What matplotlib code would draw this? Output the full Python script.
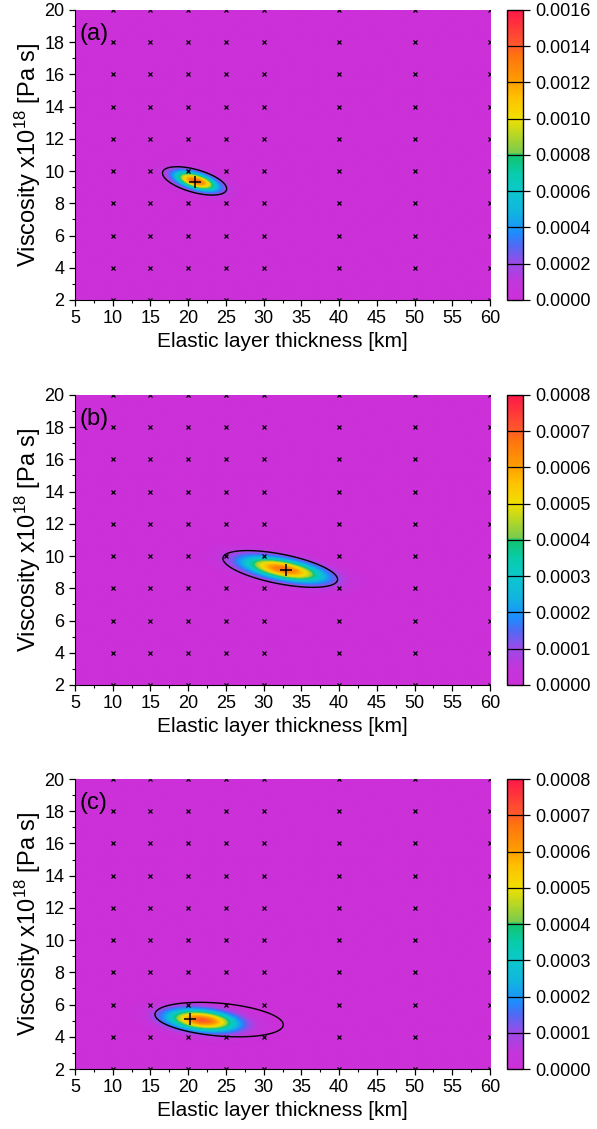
import numpy as np
import matplotlib
matplotlib.use('Agg')
import matplotlib.pyplot as plt
from matplotlib.colors import LinearSegmentedColormap

plt.rcParams['font.family'] = ['Liberation Sans', 'DejaVu Sans']
plt.rcParams['mathtext.default'] = 'regular'

# model grid that was searched (x markers)
thickness_grid = [10, 15, 20, 25, 30, 40, 50, 60]
viscosity_grid = [2, 4, 6, 8, 10, 12, 14, 16, 18, 20]

panel_labels = ['(a)', '(b)', '(c)']
cbar_max = [0.0016, 0.0008, 0.0008]
cbar_step = [0.0002, 0.0001, 0.0001]

# best-fit model (+ marker)
best_thickness = [20.9, 32.9, 20.2]
best_viscosity = [9.3, 9.13, 5.1]

# probability surface: peak value, centre, half widths, tilt
peak_value = [0.0014, 0.00068, 0.00071]
pdf_center_x = [21.0, 32.6, 21.8]
pdf_center_y = [9.35, 9.15, 5.0]
pdf_half_x = [4.0, 7.6, 6.5]
pdf_half_y = [0.85, 1.1, 0.95]
pdf_rho = [-0.55, -0.57, -0.3]

# black confidence ellipse
ell_center_x = [20.85, 32.2, 24.1]
ell_center_y = [9.39, 9.2, 5.07]
ell_half_x = [4.25, 7.6, 8.5]
ell_half_y = [0.88, 1.14, 1.07]
ell_rho = [-0.55, -0.57, -0.3]

cmap = LinearSegmentedColormap.from_list('cpt', [
    (0.00, '#cc30d8'), (0.06, '#c236dc'), (0.125, '#9b4ae8'),
    (0.19, '#4c6cf4'), (0.23, '#1e8cff'), (0.30, '#10b4e0'),
    (0.375, '#0cc8cc'), (0.44, '#08cca8'), (0.50, '#14c46c'),
    (0.51, '#7ccc4c'), (0.625, '#f0e000'), (0.70, '#ffc000'),
    (0.75, '#ffa000'), (0.85, '#ff7010'), (0.875, '#ff5c28'),
    (1.00, '#ff1848')])


def quad_form(X, Y, cx, cy, hx, hy, rho):
    u = (X - cx) / hx
    v = (Y - cy) / hy
    return (u * u - 2 * rho * u * v + v * v) / (1 - rho * rho)


xs = np.linspace(5, 60, 600)
ys = np.linspace(2, 20, 500)
X, Y = np.meshgrid(xs, ys)

fig = plt.figure(figsize=(5.97, 11.29), dpi=100)
left, width = 0.1256, 0.6952
height = 0.2569
bottoms = [0.7343, 0.3933, 0.0531]

for i in range(3):
    ax = fig.add_axes([left, bottoms[i], width, height])
    Q = quad_form(X, Y, pdf_center_x[i], pdf_center_y[i],
                  pdf_half_x[i], pdf_half_y[i], pdf_rho[i])
    Z = peak_value[i] * np.exp(np.log(0.13) * Q)
    im = ax.imshow(Z, extent=[5, 60, 2, 20], origin='lower', aspect='auto',
                   cmap=cmap, vmin=0, vmax=cbar_max[i], interpolation='bilinear')

    E = quad_form(X, Y, ell_center_x[i], ell_center_y[i],
                  ell_half_x[i], ell_half_y[i], ell_rho[i])
    ax.contour(X, Y, E, levels=[1.0], colors='k', linewidths=1.0)

    gx, gy = np.meshgrid(thickness_grid, viscosity_grid)
    ax.plot(gx.ravel(), gy.ravel(), 'x', color='k', ms=3, mew=0.9)
    ax.plot(best_thickness[i], best_viscosity[i], '+', color='k', ms=9, mew=1.1)

    ax.set_xlim(5, 60)
    ax.set_ylim(2, 20)
    ax.set_xticks(np.arange(5, 61, 5))
    ax.set_xticks(np.arange(5, 61, 2.5), minor=True)
    ax.set_yticks(np.arange(2, 21, 2))
    ax.set_yticks(np.arange(2, 21, 1), minor=True)
    ax.spines['top'].set_visible(False)
    ax.spines['right'].set_visible(False)
    ax.tick_params(which='major', length=4, width=0.9, labelsize=13)
    ax.tick_params(which='minor', length=2.5, width=0.8)
    ax.set_xlabel('Elastic layer thickness [km]', fontsize=15, labelpad=3)
    ax.set_ylabel('Viscosity x10$^{18}$ [Pa s]', fontsize=17, labelpad=1)
    ax.text(0.012, 0.955, panel_labels[i], transform=ax.transAxes,
            fontsize=17, va='top', ha='left')

    cax = fig.add_axes([0.8492, bottoms[i], 0.0268, height])
    ticks = np.arange(0, cbar_max[i] + cbar_step[i] / 2, cbar_step[i])
    cb = fig.colorbar(im, cax=cax, ticks=ticks, format='%.4f')
    cb.outline.set_linewidth(1.0)
    cax.tick_params(length=5, width=0.9, labelsize=13)
    for t in ticks[1:-1]:
        cax.axhline(t, color='k', lw=0.9)

fig.savefig('out.png', dpi=100)
